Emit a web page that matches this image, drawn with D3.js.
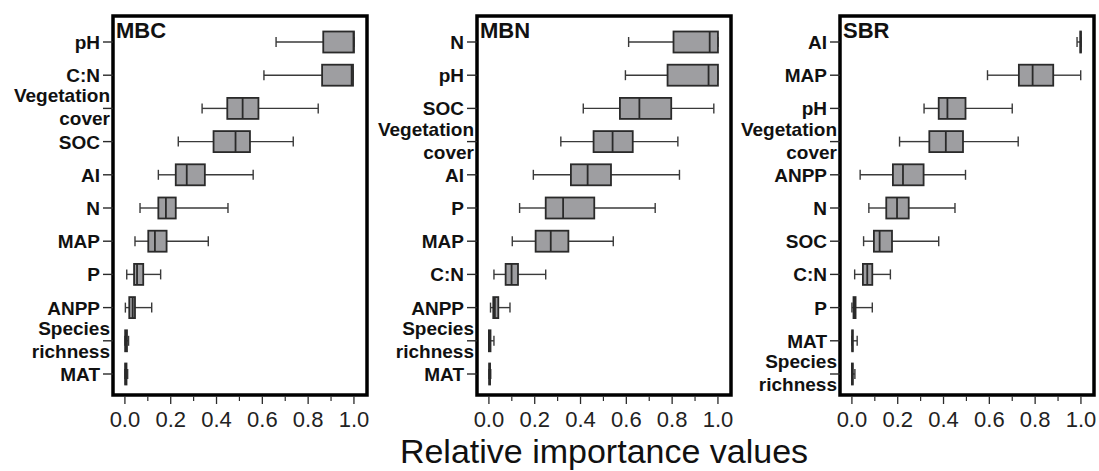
<!DOCTYPE html>
<html>
<head>
<meta charset="utf-8">
<script src="https://cdn.jsdelivr.net/npm/d3@7"></script>
<style>
  html, body { margin: 0; padding: 0; background: #fff; }
  svg { display: block; font-family: "Liberation Sans", Arial, sans-serif; }
</style>
</head>
<body>
<div id="chart"></div>
<script>
// five-number summaries [min, q1, median, q3, max]
const mbcLabels = ['pH', 'C:N', 'Vegetation\ncover', 'SOC', 'AI', 'N', 'MAP', 'P', 'ANPP', 'Species\nrichness', 'MAT'];
const mbcStats = [
  [0.66, 0.866, 0.998, 1.0, 1.0],
  [0.607, 0.861, 0.99, 0.996, 0.996],
  [0.337, 0.447, 0.514, 0.583, 0.844],
  [0.233, 0.387, 0.483, 0.546, 0.735],
  [0.146, 0.222, 0.27, 0.349, 0.56],
  [0.066, 0.146, 0.179, 0.222, 0.45],
  [0.044, 0.102, 0.131, 0.182, 0.364],
  [0.008, 0.04, 0.053, 0.08, 0.156],
  [0.002, 0.019, 0.034, 0.044, 0.117],
  [0.0, 0.001, 0.005, 0.009, 0.016],
  [0.0, 0.001, 0.003, 0.007, 0.012]
];

const mbnLabels = ['N', 'pH', 'SOC', 'Vegetation\ncover', 'AI', 'P', 'MAP', 'C:N', 'ANPP', 'Species\nrichness', 'MAT'];
const mbnStats = [
  [0.61, 0.806, 0.964, 1.0, 1.0],
  [0.596, 0.78, 0.959, 1.0, 1.0],
  [0.412, 0.572, 0.657, 0.796, 0.982],
  [0.314, 0.457, 0.54, 0.628, 0.825],
  [0.194, 0.358, 0.431, 0.533, 0.832],
  [0.134, 0.248, 0.324, 0.46, 0.726],
  [0.102, 0.204, 0.27, 0.347, 0.543],
  [0.022, 0.073, 0.099, 0.127, 0.248],
  [0.007, 0.019, 0.026, 0.041, 0.092],
  [0.0, 0.0, 0.003, 0.007, 0.022],
  [0.0, 0.001, 0.003, 0.005, 0.008]
];

const sbrLabels = ['AI', 'MAP', 'pH', 'Vegetation\ncover', 'ANPP', 'N', 'SOC', 'C:N', 'P', 'MAT', 'Species\nrichness'];
const sbrStats = [
  [0.983, 0.997, 0.999, 1.0, 1.0],
  [0.592, 0.729, 0.789, 0.879, 0.999],
  [0.315, 0.379, 0.417, 0.496, 0.7],
  [0.208, 0.338, 0.41, 0.485, 0.726],
  [0.036, 0.179, 0.223, 0.313, 0.496],
  [0.074, 0.15, 0.197, 0.248, 0.45],
  [0.051, 0.096, 0.121, 0.175, 0.379],
  [0.012, 0.048, 0.067, 0.089, 0.168],
  [0.0, 0.007, 0.012, 0.016, 0.089],
  [0.0, 0.001, 0.002, 0.004, 0.023],
  [0.0, 0.0, 0.002, 0.004, 0.013]
];

const panels = [
  { title: 'MBC', labels: mbcLabels, stats: mbcStats, left: 113 },
  { title: 'MBN', labels: mbnLabels, stats: mbnStats, left: 477 },
  { title: 'SBR', labels: sbrLabels, stats: sbrStats, left: 840 }
];
const xTicks = [0, 0.2, 0.4, 0.6, 0.8, 1.0];
const xMinorTicks = [0.1, 0.3, 0.5, 0.7, 0.9];
const axisTitle = 'Relative importance values';

const W = 1099, H = 471;
const frameTop = 16, frameBottom = 395, frameWidth = 254;
const boxH = 21, capH = 10;
const fill = '#9e9ea1', ink = '#2a2a2a', whiskerInk = '#3a3a3a';

const svg = d3.select('#chart').append('svg')
  .attr('width', W)
  .attr('height', H);

panels.forEach(p => {
  const g = svg.append('g').attr('transform', `translate(${p.left},0)`);

  const x = d3.scaleLinear().domain([-0.052, 1.057]).range([0, frameWidth]);
  const y = d3.scalePoint().domain(p.labels).range([42, 374]);

  // boxes
  p.labels.forEach((lab, i) => {
    const [mn, q1, md, q3, mx] = p.stats[i];
    const cy = y(lab);
    const bg = g.append('g');
    bg.append('line')
      .attr('x1', x(mn)).attr('x2', x(q1)).attr('y1', cy).attr('y2', cy)
      .attr('stroke', whiskerInk).attr('stroke-width', 1.4);
    bg.append('line')
      .attr('x1', x(q3)).attr('x2', x(mx)).attr('y1', cy).attr('y2', cy)
      .attr('stroke', whiskerInk).attr('stroke-width', 1.4);
    [mn, mx].forEach(v => {
      bg.append('line')
        .attr('x1', x(v)).attr('x2', x(v))
        .attr('y1', cy - capH / 2).attr('y2', cy + capH / 2)
        .attr('stroke', whiskerInk).attr('stroke-width', 1.4);
    });
    bg.append('rect')
      .attr('x', x(q1)).attr('y', cy - boxH / 2)
      .attr('width', Math.max(0, x(q3) - x(q1))).attr('height', boxH)
      .attr('fill', fill).attr('stroke', ink).attr('stroke-width', 1.8);
    bg.append('line')
      .attr('x1', x(md)).attr('x2', x(md))
      .attr('y1', cy - boxH / 2).attr('y2', cy + boxH / 2)
      .attr('stroke', ink).attr('stroke-width', 1.8);
  });

  // frame
  g.append('rect')
    .attr('x', 0).attr('y', frameTop)
    .attr('width', frameWidth).attr('height', frameBottom - frameTop)
    .attr('fill', 'none').attr('stroke', '#000').attr('stroke-width', 3.5);

  // y ticks and labels
  p.labels.forEach(lab => {
    const cy = y(lab);
    g.append('line')
      .attr('x1', -10).attr('x2', 0).attr('y1', cy).attr('y2', cy)
      .attr('stroke', ink).attr('stroke-width', 1.4);
    const lines = lab.split('\n');
    const t = g.append('text')
      .attr('text-anchor', 'end')
      .attr('font-size', 19)
      .attr('font-weight', 'bold')
      .attr('fill', '#111');
    if (lines.length === 1) {
      t.attr('x', -13).attr('y', cy + 7).text(lab);
    } else {
      t.append('tspan').attr('x', -3).attr('y', cy - 6).text(lines[0]);
      t.append('tspan').attr('x', -3).attr('y', cy + 17).text(lines[1]);
    }
  });

  // x axis ticks
  const tickG = g.append('g');
  xTicks.forEach(v => {
    tickG.append('line')
      .attr('x1', x(v)).attr('x2', x(v))
      .attr('y1', frameBottom + 1.5).attr('y2', frameBottom + 9)
      .attr('stroke', ink).attr('stroke-width', 1.3);
    tickG.append('text')
      .attr('x', x(v)).attr('y', 427)
      .attr('text-anchor', 'middle')
      .attr('font-size', 22)
      .attr('fill', '#222')
      .text(d3.format('.1f')(v));
  });
  xMinorTicks.forEach(v => {
    tickG.append('line')
      .attr('x1', x(v)).attr('x2', x(v))
      .attr('y1', frameBottom + 1.5).attr('y2', frameBottom + 6)
      .attr('stroke', ink).attr('stroke-width', 1.2);
  });

  // panel title
  g.append('text')
    .attr('x', 3).attr('y', 38)
    .attr('font-size', 22)
    .attr('font-weight', 'bold')
    .attr('fill', '#111')
    .text(p.title);
});

svg.append('text')
  .attr('x', 604).attr('y', 463)
  .attr('text-anchor', 'middle')
  .attr('font-size', 34)
  .attr('fill', '#111')
  .text(axisTitle);
</script>
</body>
</html>
